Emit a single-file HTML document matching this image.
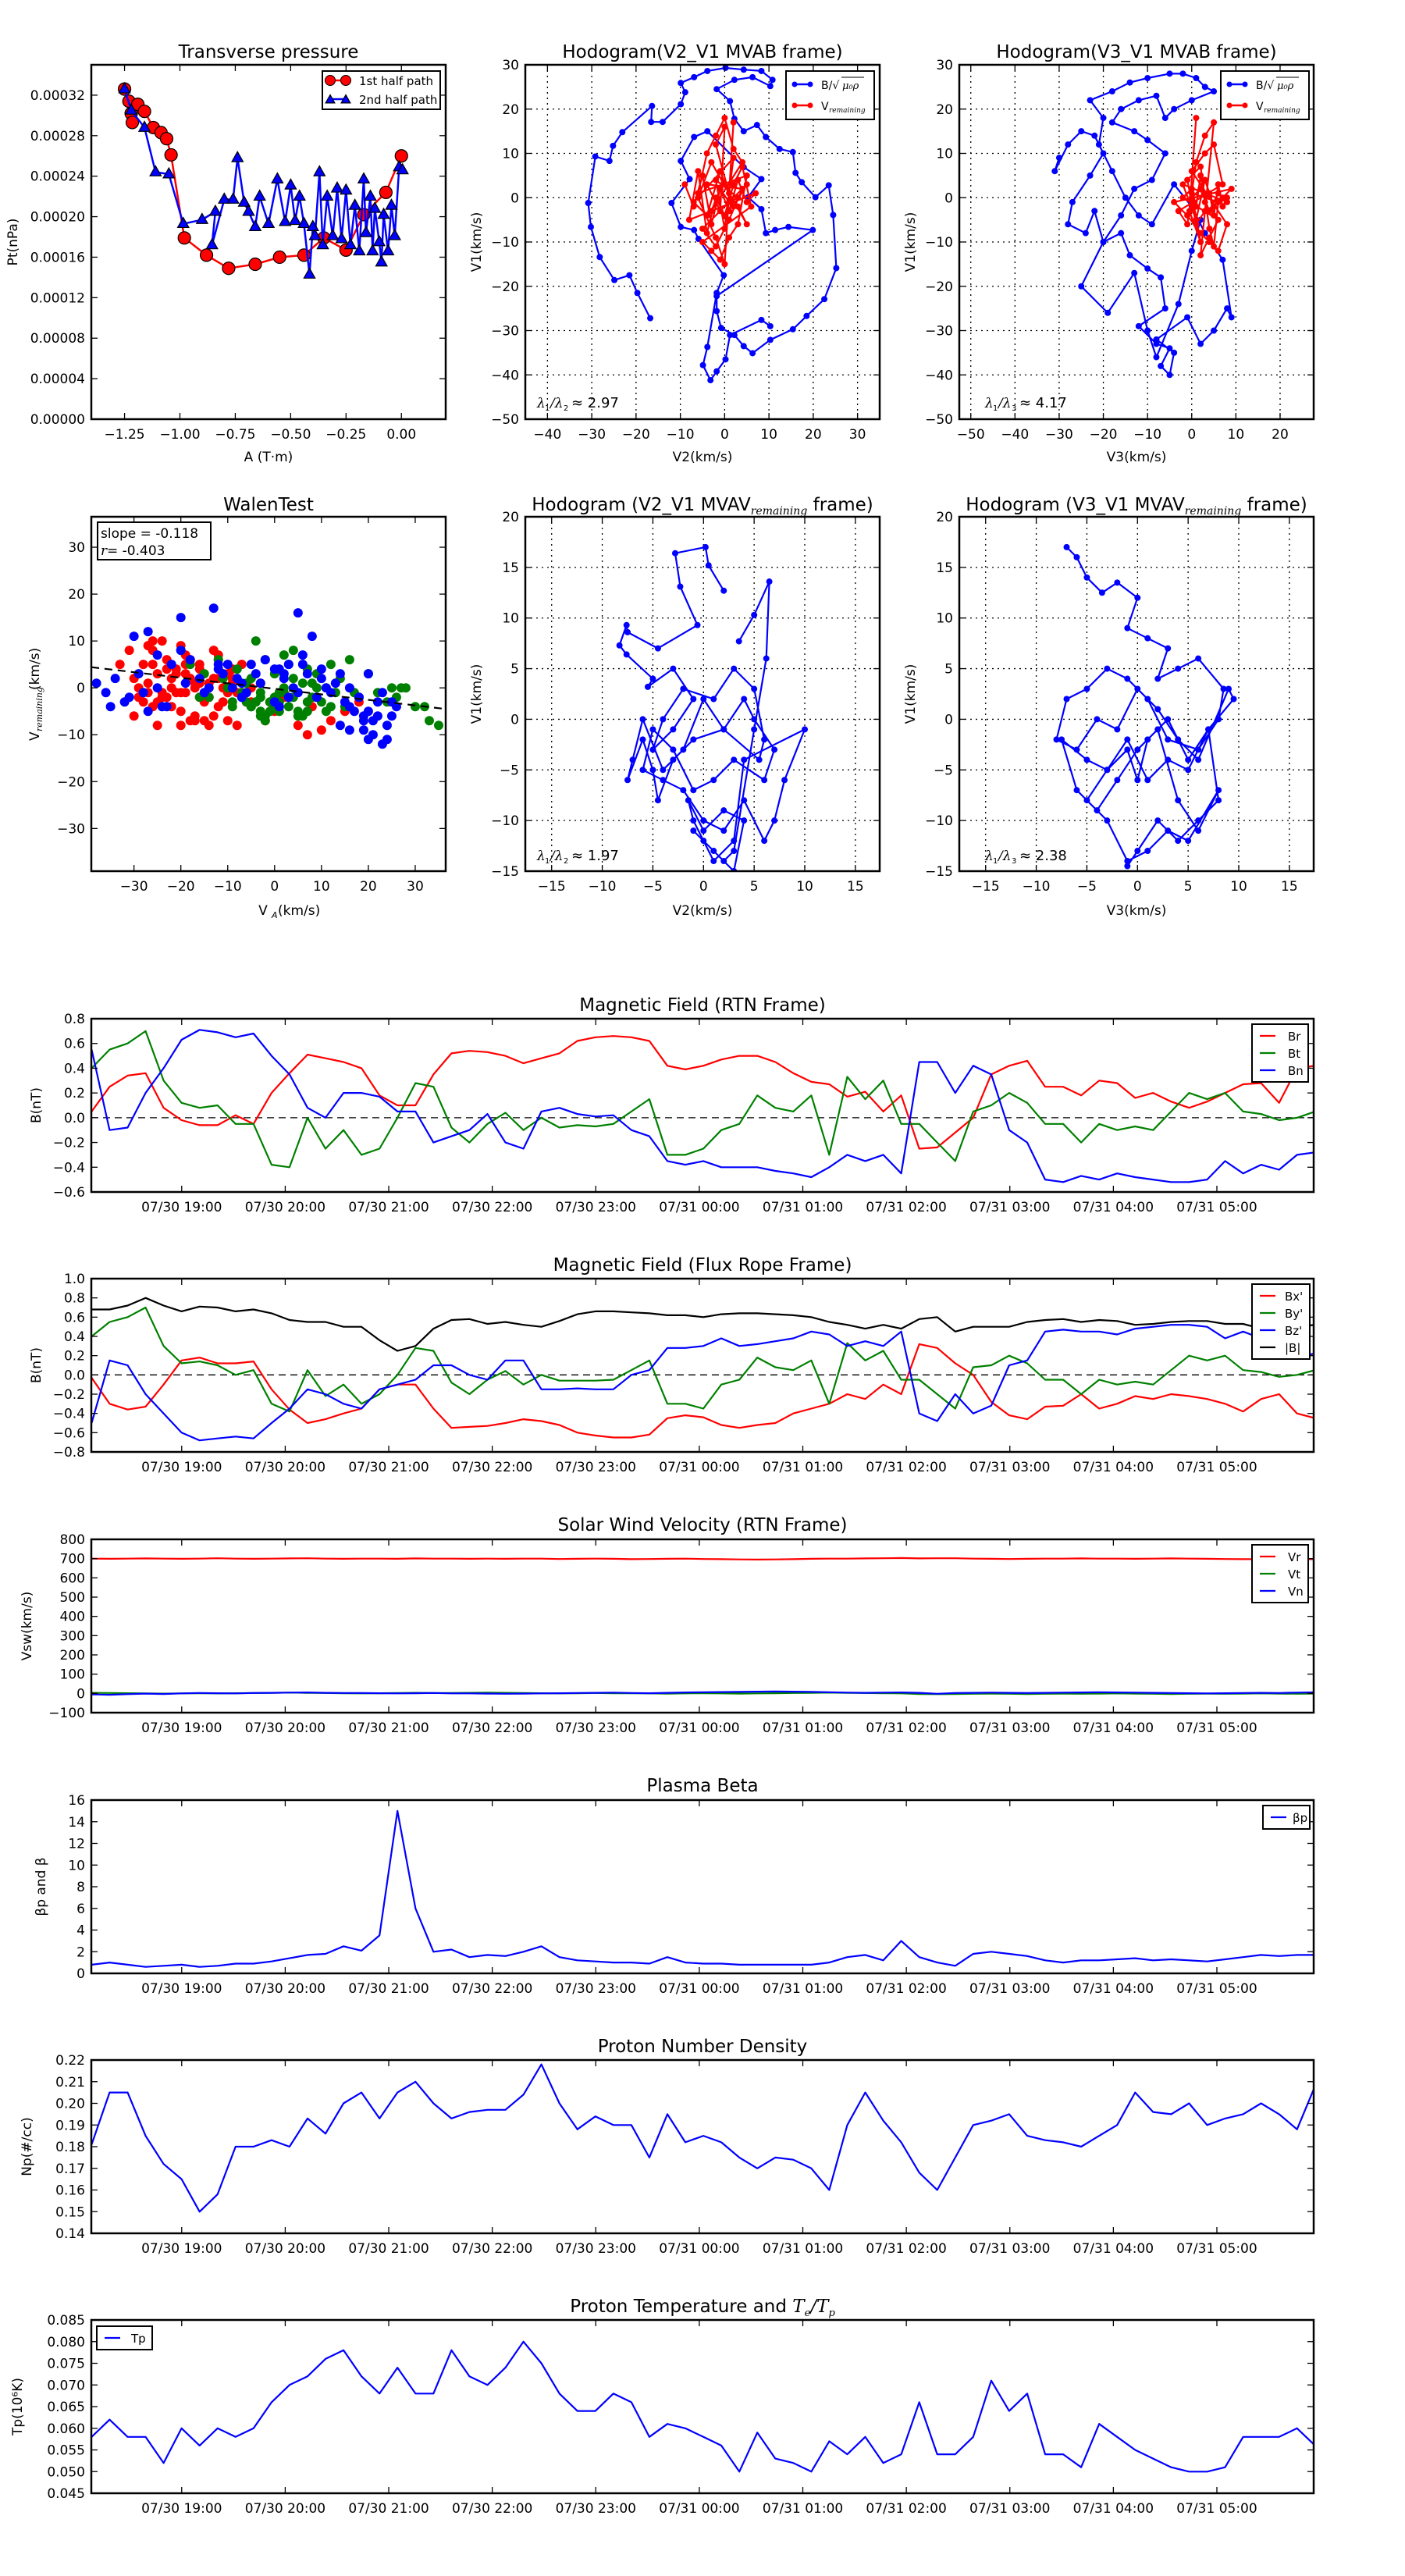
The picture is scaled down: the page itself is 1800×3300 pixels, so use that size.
<!DOCTYPE html>
<html><head><meta charset="utf-8"><title>Flux rope analysis</title>
<style>
html,body{margin:0;padding:0;background:#fff;}
svg{display:block;}
</style></head>
<body>
<svg id="fig" xmlns="http://www.w3.org/2000/svg" width="1800" height="3300" viewBox="0 0 1800 3300">
<rect x="0" y="0" width="1800" height="3300" fill="#fff"/>
</svg>
<script>
// ---------------- DATA ----------------
const timeTickHours = [19,20,21,22,23,24,25,26,27,28,29];
const timeTickLabels = ['07/30 19:00','07/30 20:00','07/30 21:00','07/30 22:00','07/30 23:00','07/31 00:00','07/31 01:00','07/31 02:00','07/31 03:00','07/31 04:00','07/31 05:00'];
const seriesStartHour = 18.13;
const seriesStepHour = 0.1738;

const br = [0.05,0.25,0.34,0.36,0.08,-0.02,-0.06,-0.06,0.02,-0.05,0.2,0.36,0.51,0.48,0.45,0.4,0.18,0.1,0.1,0.35,0.52,0.54,0.53,0.5,0.44,0.48,0.52,0.62,0.65,0.66,0.65,0.62,0.42,0.39,0.42,0.47,0.5,0.5,0.45,0.36,0.29,0.27,0.17,0.21,0.05,0.18,-0.25,-0.24,-0.12,0.0,0.35,0.42,0.46,0.25,0.25,0.18,0.3,0.28,0.16,0.2,0.13,0.08,0.13,0.2,0.27,0.28,0.12,0.4,0.42];
const bt = [0.4,0.55,0.6,0.7,0.3,0.12,0.08,0.1,-0.05,-0.05,-0.38,-0.4,0.0,-0.25,-0.1,-0.3,-0.25,0.0,0.28,0.25,-0.08,-0.2,-0.05,0.04,-0.1,0.0,-0.08,-0.06,-0.07,-0.05,0.05,0.15,-0.3,-0.3,-0.25,-0.1,-0.05,0.18,0.08,0.05,0.18,-0.3,0.33,0.15,0.3,-0.05,-0.05,-0.2,-0.35,0.05,0.1,0.2,0.12,-0.05,-0.05,-0.2,-0.05,-0.1,-0.07,-0.1,0.05,0.2,0.15,0.2,0.05,0.03,-0.02,0.0,0.05];
const bn = [0.55,-0.1,-0.08,0.2,0.4,0.63,0.71,0.69,0.65,0.68,0.5,0.35,0.08,0.0,0.2,0.2,0.17,0.05,0.05,-0.2,-0.15,-0.1,0.03,-0.2,-0.25,0.05,0.08,0.03,0.01,0.02,-0.1,-0.15,-0.35,-0.38,-0.35,-0.4,-0.4,-0.4,-0.43,-0.45,-0.48,-0.4,-0.3,-0.35,-0.3,-0.45,0.45,0.45,0.2,0.42,0.35,-0.1,-0.2,-0.5,-0.52,-0.47,-0.5,-0.45,-0.48,-0.5,-0.52,-0.52,-0.5,-0.35,-0.45,-0.38,-0.42,-0.3,-0.28];

const bxp = [-0.03,-0.3,-0.36,-0.33,-0.1,0.15,0.18,0.12,0.12,0.14,-0.15,-0.36,-0.5,-0.46,-0.4,-0.35,-0.15,-0.1,-0.1,-0.35,-0.55,-0.54,-0.53,-0.5,-0.46,-0.48,-0.52,-0.6,-0.63,-0.65,-0.65,-0.62,-0.45,-0.42,-0.44,-0.52,-0.55,-0.52,-0.5,-0.4,-0.35,-0.3,-0.2,-0.25,-0.1,-0.2,0.32,0.28,0.12,0.0,-0.28,-0.42,-0.46,-0.33,-0.32,-0.2,-0.35,-0.3,-0.22,-0.25,-0.2,-0.22,-0.25,-0.3,-0.38,-0.25,-0.2,-0.4,-0.45];
const byp = [0.4,0.55,0.6,0.7,0.3,0.12,0.14,0.1,0.0,0.05,-0.3,-0.38,0.05,-0.22,-0.1,-0.3,-0.2,0.0,0.28,0.25,-0.08,-0.2,-0.05,0.04,-0.1,0.0,-0.06,-0.06,-0.06,-0.05,0.05,0.15,-0.3,-0.3,-0.35,-0.1,-0.05,0.18,0.08,0.05,0.15,-0.3,0.33,0.15,0.25,-0.05,-0.05,-0.2,-0.35,0.08,0.1,0.2,0.12,-0.05,-0.05,-0.2,-0.05,-0.1,-0.07,-0.1,0.05,0.2,0.15,0.2,0.05,0.03,-0.02,0.0,0.05];
const bzp = [-0.5,0.15,0.1,-0.2,-0.4,-0.6,-0.68,-0.66,-0.64,-0.66,-0.5,-0.35,-0.15,-0.2,-0.3,-0.35,-0.15,-0.1,-0.05,0.1,0.1,0.0,-0.05,0.15,0.15,-0.15,-0.15,-0.14,-0.15,-0.15,0.0,0.05,0.28,0.28,0.3,0.38,0.3,0.32,0.35,0.38,0.45,0.42,0.3,0.35,0.3,0.45,-0.4,-0.48,-0.2,-0.4,-0.32,0.1,0.15,0.45,0.47,0.45,0.45,0.42,0.48,0.5,0.52,0.52,0.5,0.38,0.45,0.38,0.42,0.2,0.22];
const bmag = [0.68,0.68,0.72,0.8,0.72,0.66,0.71,0.7,0.66,0.68,0.64,0.57,0.55,0.55,0.5,0.5,0.36,0.25,0.3,0.48,0.57,0.58,0.53,0.55,0.52,0.5,0.56,0.63,0.66,0.66,0.65,0.64,0.62,0.62,0.6,0.63,0.64,0.64,0.63,0.62,0.6,0.55,0.52,0.48,0.52,0.48,0.58,0.6,0.45,0.5,0.5,0.5,0.55,0.57,0.58,0.55,0.57,0.56,0.52,0.53,0.55,0.56,0.56,0.53,0.53,0.48,0.46,0.5,0.52];

const vr = [700,699,700,701,700,699,700,702,700,699,700,701,702,700,699,700,700,699,701,700,700,699,700,699,700,700,698,699,700,699,697,698,699,700,698,697,696,695,696,697,699,700,700,701,702,703,701,702,702,700,699,698,699,700,700,701,700,700,699,700,701,700,699,698,697,697,697,696,697];
const vt = [3,2,1,0,-1,0,1,0,1,2,3,4,3,2,1,0,1,2,3,2,2,3,4,3,2,1,0,1,2,1,1,0,-1,0,1,0,-1,0,1,2,3,4,3,2,1,0,-3,-4,-3,-2,-1,-2,-3,-2,-1,-2,-1,0,-1,-2,-3,-2,-1,-2,-1,0,-1,-2,-1];
const vn = [-5,-7,-4,-1,-3,0,2,1,0,2,3,4,5,3,2,2,1,0,1,2,0,0,-1,-2,-1,0,1,2,3,4,2,1,3,5,6,7,8,9,10,9,8,6,4,3,4,5,3,-2,2,3,4,3,2,3,4,5,6,5,4,3,2,1,0,1,2,3,2,4,6];

const betaP = [0.8,1.0,0.8,0.6,0.7,0.8,0.6,0.7,0.9,0.9,1.1,1.4,1.7,1.8,2.5,2.1,3.5,15.0,6.0,2.0,2.2,1.5,1.7,1.6,2.0,2.5,1.5,1.2,1.1,1.0,1.0,0.9,1.5,1.0,0.9,0.9,0.8,0.8,0.8,0.8,0.8,1.0,1.5,1.7,1.2,3.0,1.5,1.0,0.7,1.8,2.0,1.8,1.6,1.2,1.0,1.2,1.2,1.3,1.4,1.2,1.3,1.2,1.1,1.3,1.5,1.7,1.6,1.7,1.7];
const np = [0.181,0.205,0.205,0.185,0.172,0.165,0.15,0.158,0.18,0.18,0.183,0.18,0.193,0.186,0.2,0.205,0.193,0.205,0.21,0.2,0.193,0.196,0.197,0.197,0.204,0.218,0.2,0.188,0.194,0.19,0.19,0.175,0.195,0.182,0.185,0.182,0.175,0.17,0.175,0.174,0.17,0.16,0.19,0.205,0.192,0.182,0.168,0.16,0.175,0.19,0.192,0.195,0.185,0.183,0.182,0.18,0.185,0.19,0.205,0.196,0.195,0.2,0.19,0.193,0.195,0.2,0.195,0.188,0.208];
const tp = [0.058,0.062,0.058,0.058,0.052,0.06,0.056,0.06,0.058,0.06,0.066,0.07,0.072,0.076,0.078,0.072,0.068,0.074,0.068,0.068,0.078,0.072,0.07,0.074,0.08,0.075,0.068,0.064,0.064,0.068,0.066,0.058,0.061,0.06,0.058,0.056,0.05,0.059,0.053,0.052,0.05,0.057,0.054,0.058,0.052,0.054,0.066,0.054,0.054,0.058,0.071,0.064,0.068,0.054,0.054,0.051,0.061,0.058,0.055,0.053,0.051,0.05,0.05,0.051,0.058,0.058,0.058,0.06,0.056];

// Transverse pressure
const pt1A = [-1.25,-1.23,-1.22,-1.215,-1.19,-1.16,-1.12,-1.085,-1.06,-1.04,-0.98,-0.88,-0.78,-0.66,-0.55,-0.44,-0.35,-0.25,-0.17,-0.07,0.0];
const pt1P = [0.000326,0.000314,0.000302,0.000293,0.000311,0.000304,0.000288,0.000283,0.000277,0.000261,0.000179,0.000162,0.000149,0.000153,0.000160,0.000162,0.000179,0.000167,0.000202,0.000224,0.000260];
const pt2A = [-1.25,-1.22,-1.16,-1.11,-1.05,-0.985,-0.90,-0.84,-0.855,-0.80,-0.76,-0.74,-0.71,-0.69,-0.66,-0.64,-0.60,-0.56,-0.525,-0.50,-0.48,-0.46,-0.44,-0.415,-0.40,-0.39,-0.37,-0.355,-0.335,-0.31,-0.29,-0.27,-0.25,-0.23,-0.21,-0.19,-0.17,-0.16,-0.14,-0.13,-0.12,-0.10,-0.09,-0.08,-0.06,-0.045,-0.03,-0.01,0.005];
const pt2P = [0.000326,0.000305,0.000288,0.000244,0.000242,0.000193,0.000197,0.000205,0.000172,0.000217,0.000217,0.000258,0.000214,0.000205,0.000190,0.000220,0.000193,0.000237,0.000195,0.000231,0.000196,0.000220,0.000193,0.000143,0.000190,0.000181,0.000244,0.000172,0.000220,0.000181,0.000228,0.000178,0.000226,0.000172,0.000211,0.000166,0.000237,0.000184,0.000220,0.000166,0.000208,0.000175,0.000155,0.000202,0.000166,0.000211,0.000181,0.000249,0.000246];

// Hodogram MVAB V2-V1
const hb2V2 = [-16.8,-19.7,-21.5,-24.9,-28.2,-30.2,-30.8,-29.2,-26,-25.2,-23.1,-16.4,-16.6,-14,-9.9,-8.9,-9.9,-6.9,-3.9,0.2,4.3,8.3,10.8,10.3,6.3,2.2,-1.8,1.2,2.2,4.3,7.3,9.3,12.4,15.4,16,17.4,20.5,23.5,24.5,25.2,22.5,18.5,15.4,10.3,6.3,4.3,2.2,-0.8,-1.8,-1.8,19.9,14.4,11.4,9.3,8.3,5.3,8.3,4.3,-3.9,-6.9,-9.9,-7.9,-12,-9.9,-6.9,-5.9,-0.2,-1.8,-3.9,-4.9,-3.2,-1.8,0.2,1.2,8.3,10.3];
const hb2V1 = [-27.2,-21.5,-17.5,-18.6,-13.4,-6.6,-1.2,9.3,8.3,11.7,14.8,20.7,17.1,17.1,21.1,23.8,25.9,27.2,28.6,29.3,28.9,28.6,26.6,25.2,27.2,26.6,24.5,21.8,17.8,15.0,16.4,13.7,11.0,10.3,5.6,3.5,0.1,2.8,-3.9,-15.9,-22.9,-26.7,-29.7,-32.1,-35.1,-33.5,-31,-29.4,-25.6,-22.2,-7.3,-6.6,-7.3,-8,-2.6,0.1,4.2,6.9,15,13.7,8.3,4.2,-1.2,-6.6,-7.3,-9.3,-17.5,-21.5,-33.7,-37.8,-41.2,-39.2,-36.5,-31,-27.6,-29];
const hr2V2 = [-9,-7,-5,-3,-1,1,3,5,7,-8,-6,-4,-2,0,2,4,6,-5,-3,-1,1,3,5,-6,-4,-2,0,2,4,-3,-1,1,3,-2,0,2,-7,-4,-1,2,5,-5,-2,1,4,-4,-1,0,-2,1,3,5,-3,-6,-2,0,2];
const hr2V1 = [3,-2,5,-6,2,-3,4,-1,1,-5,6,-8,0,-4,3,7,-2,-10,-12,-14,-9,-6,5,1,10,14,18,11,8,-3,2,-1,0,4,-7,9,-1,-4,6,-2,3,-7,-11,-5,2,3,-3,16,12,1,-2,-6,8,0,-9,-15,17];

// Hodogram MVAB V3-V1
const hb3V3 = [-30,-31,-28,-25,-22,-20,-23,-27,-28,-24,-22,-20,-16,-14,-10,-7,-6,-12,-8,-5,-7,-5,-4,-8,-1,2,5,8,9,7,3,0,-4,-9,-12,-15,-18,-21,-20,-23,-18,-14,-10,-5,-2,1,3,5,0,-4,-6,-8,-12,-16,-18,-13,-10,-6,-9,-13,-16,-20,-25,-19,-13,-10,-8,-3,0,2];
const hb3V1 = [9,6,12,15,14,10,5,-1,-6,-8,-3,-10,-8,-13,-16,-18,-25,-29,-33,-34,-38,-40,-35,-32,-27,-33,-30,-25,-27,-14,-8,-2,3,-6,-4,0,6,12,18,22,24,26,27,28,28,27,25,24,22,20,18,23,22,20,17,15,13,10,4,2,-4,-10,-20,-26,-17,-30,-36,-24,-12,-5];
const hr3V3 = [0,2,4,6,8,-2,1,3,5,7,9,-4,-1,2,4,6,8,0,3,5,7,-3,-1,1,3,5,2,4,6,-2,0,1,2,3,4,5,6,7,8,3,1,-1,2,4,5,6,0,2,-0.5,1];
const hr3V1 = [0,2,-3,1,-1,3,-5,4,-2,0,2,-1,-4,-8,-10,-12,-6,6,10,12,3,-3,-6,8,14,17,-13,-9,-5,0,2,-2,5,-1,1,-4,3,-2,0,-3,-6,4,7,-7,-11,-1,1,-10,-3,18];

// Walen test
const walenRedX = [-30,-28,-27,-26,-25,-24,-23,-22,-21,-20,-19,-18,-17,-16,-15,-14,-13,-12,-11,-10,-9,-8,-7,-6,-5,-30,-28,-26,-24,-22,-20,-18,-16,-14,-12,-10,-8,-25,-21,-17,-13,-9,-27,-23,-19,-15,-11,-5,-2,0,2,5,8,12,15,18,-29,-20,-16,-10,-33,-31,-26,-24,-19,-17,-14,-12,-6,-3,7,10,-29,-27,-25,-23,-21,-19,-17,-15,-13,-11,-9,-7,-26,-22,-18,-14,-24,-20,-16,-12];
const walenRedY = [2,5,-1,8,3,-2,6,0,4,-5,7,2,-6,5,-3,1,8,-4,3,-7,2,-1,5,-3,0,-6,-3,10,-1,2,-8,-7,4,-2,6,-1,-8,-8,3,1,-6,4,9,-2,5,-7,0,-3,-7,-5,-2,-8,-4,-7,-5,-3,0,9,-2,3,5,8,-4,10,-1,-7,-8,7,-3,1,-10,-9,-2,1,-3,4,-1,3,0,-2,2,-3,1,-1,5,-4,6,0,-2,-1,1,2];
const walenGreenX = [-18,-15,-12,-10,-8,-6,-5,-4,-3,-2,-1,0,1,2,3,4,5,6,7,8,9,10,11,12,13,14,15,16,18,20,22,24,26,28,30,33,35,-14,-9,-6,-2,1,3,6,9,12,-11,-7,-3,0,4,8,11,17,-16,-4,2,7,-5,-3,-1,1,3,-20,25,27,32,-9,-7,-5,-3,-1,1,3,5,7,-2,0,2,4,-4];
const walenGreenY = [5,3,6,0,4,-3,2,10,-2,6,-5,3,-1,7,-4,2,-6,1,4,-2,3,-3,0,5,-1,2,-4,6,-2,3,-1,-3,-2,0,-4,-7,-8,-2,-4,1,-7,-3,5,-6,0,-4,2,-1,-5,-2,8,1,-5,-1,-2,-3,0,-5,-4,-6,-3,-5,-2,8,0,0,-4,-3,-2,-4,-1,-3,-4,-2,-5,-3,-6,-4,-1,-2,-3];
const walenBlueX = [-38,-36,-34,-32,-30,-29,-28,-27,-25,-24,-22,-20,-19,-18,-16,-14,-13,-12,-10,-8,-6,-4,-2,0,2,4,5,6,7,8,9,10,12,14,16,18,20,21,22,23,24,25,26,-25,-15,-11,-7,-3,1,3,11,13,17,19,-5,-20,-12,0,10,20,-35,-31,-27,-23,14,16,19,24,-9,-7,1,2,3,5,6,15,16,18,20,22,23,25,21,19];
const walenBlueY = [1,-1,2,-3,11,3,-1,12,7,-4,5,15,1,6,2,0,17,4,5,2,-1,3,6,4,2,0,16,7,3,11,-2,2,-1,3,0,-2,-11,-10,-3,-12,-8,-6,-4,0,-1,3,-2,1,-4,5,0,1,-5,-7,5,8,5,-3,4,3,-4,-2,-5,-4,-8,-9,-6,-11,0,1,4,3,-2,-1,5,-3,-4,-2,-5,-6,-1,-3,-7,-9];
const walenSlope = -0.118;
const walenIntercept = -0.2;

// Hodogram MVAV (row 2)
const hv2V2 = [2,0.5,0.2,-2.8,-2.3,-0.6,-4.5,-7.5,-7.6,-8.3,-7.6,-5,-5.5,-3,-1,-3,-5,-4,-2,1,3,5,6,5.5,2,0,-2,-4,-6,-7,-7.5,-6,-5,-4.5,-3,-1,2,4,5,7,6,3,1,-1,-3,-5,-6,-4,-2,0,2,4,6,7,8,10,4,3,1,-1,-1.5,0,2,4,3,1,-1,0,2,3,5,6.2,6.5,5,3.5];
const hv2V1 = [12.7,15.2,17,16.4,13.1,9.3,7,8.6,9.3,7.3,6.4,4,3.2,5,2,-1,-3,0,3,2,5,3,-2,-4,-1,2,-3,-5,0,-4,-6,-2,-5,-8,-4,-2,-1,2,0,-3,-6,-4,-6,-7,-3,-1,-5,-6,-7,-10,-11,-8,-12,-10,-6,-1,-4,-12,-14,-10,-8,-11,-9,-10,-15,-13,-11,-12,-14,-13,-1,6,13.6,10.3,7.7];
const hv3V3 = [-7,-6,-5,-3.5,-2,0,-1,1,3,2,4,6,8.5,8,6,3,1,-1,-3,-5,-7,-8,-6,-4,-2,0,2,4,6,9,9.5,7,5,3,1,-1,-3,-5,-7.5,-6,-4,-2,0,2,4,6,8,5,3,1,-1,-3,-5,-3,-1,0,1,3,5,7,8,6,4,2,0,-1];
const hv3V1 = [17,16,14,12.5,13.5,12,9,8,7,4,5,6,3,0,-3,-2,2,4,5,3,2,-2,-3,0,-1,3,1,-2,-4,3,2,-1,-5,-4,-6,-2,-5,-4,-2,-7,-9,-6,-3,-1,-8,-11,-7,-12,-11,-13,-14,-10,-8,-5,-3,-6,-2,0,-4,-1,-8,-10,-12,-10,-13,-14.5];

// ---------------- DRAWING ----------------
const NS = 'http://www.w3.org/2000/svg';
const svg = document.getElementById('fig');
const FONT = '"DejaVu Sans", "Liberation Sans", sans-serif';
let clipId = 0;
function mk(tag, attrs, parent) {
  const e = document.createElementNS(NS, tag);
  for (const k in attrs) e.setAttribute(k, attrs[k]);
  (parent || svg).appendChild(e);
  return e;
}
function txt(str, x, y, attrs, parent) {
  const a = Object.assign({x: x, y: y, 'font-family': FONT, 'font-size': 17, fill: '#000'}, attrs || {});
  const e = mk('text', a, parent);
  e.textContent = str;
  return e;
}
function lin(v0, v1, p0, p1) { return v => p0 + (v - v0) / (v1 - v0) * (p1 - p0); }

function makeAxes(c) {
  const g = mk('g', {});
  
  
  const sx = lin(c.xmin, c.xmax, c.x, c.x + c.w);
  const sy = lin(c.ymin, c.ymax, c.y + c.h, c.y);
  const cid = 'clip' + (clipId++);
  const cp = mk('clipPath', {id: cid}, g);
  mk('rect', {x: c.x, y: c.y, width: c.w, height: c.h}, cp);
  if (c.grid) {
    const gg = mk('g', {stroke: '#000', 'stroke-width': 1.3, 'stroke-dasharray': '2,5'}, g);
    
    
    c.xticks.forEach(v => mk('line', {x1: sx(v), x2: sx(v), y1: c.y, y2: c.y + c.h}, gg));
    c.yticks.forEach(v => mk('line', {x1: c.x, x2: c.x + c.w, y1: sy(v), y2: sy(v)}, gg));
  }
  const plot = mk('g', {'clip-path': 'url(#' + cid + ')'}, g);
  
  
  function finish() {
    const fr = mk('g', {}, g);
    
    
    mk('rect', {x: c.x, y: c.y, width: c.w, height: c.h, fill: 'none', stroke: '#000', 'stroke-width': 2.5}, fr);
    const tk = mk('g', {stroke: '#000', 'stroke-width': 1.3}, fr);
    const L = 8;
    c.xticks.forEach((v, i) => {
      const X = sx(v);
      mk('line', {x1: X, x2: X, y1: c.y + c.h, y2: c.y + c.h - L}, tk);
      mk('line', {x1: X, x2: X, y1: c.y, y2: c.y + L}, tk);
      const t = txt(c.xlabels[i], X, c.y + c.h + 25, {'text-anchor': 'middle'}, fr);
      
      
    });
    c.yticks.forEach((v, i) => {
      const Y = sy(v);
      mk('line', {x1: c.x, x2: c.x + L, y1: Y, y2: Y}, tk);
      mk('line', {x1: c.x + c.w, x2: c.x + c.w - L, y1: Y, y2: Y}, tk);
      const t = txt(c.ylabels[i], c.x - 8, Y + 6, {'text-anchor': 'end'}, fr);
      
      
    });
  }
  return {g, plot, sx, sy, finish, c};
}
function polyline(ax, xs, ys, color, width, parent, name) {
  const n = Math.min(xs.length, ys.length);
  const pts = [];
  for (let i = 0; i < n; i++) pts.push(ax.sx(xs[i]).toFixed(1) + ',' + ax.sy(ys[i]).toFixed(1));
  const p = mk('polyline', {points: pts.join(' '), fill: 'none', stroke: color, 'stroke-width': width, 'stroke-linejoin': 'round'}, parent || ax.plot);
  
  
  return p;
}
function dots(ax, xs, ys, color, r, name, stroke) {
  const n = Math.min(xs.length, ys.length);
  const g = mk('g', {fill: color}, ax.plot);
  
  
  for (let i = 0; i < n; i++) {
    const d = mk('circle', {cx: ax.sx(xs[i]), cy: ax.sy(ys[i]), r: r}, g);
    if (stroke) { d.setAttribute('stroke', stroke); d.setAttribute('stroke-width', 1.2); }
    
    
  }
}
function tri(px, py, s, parent) {
  return mk('polygon', {points: [px, py - s, px - s * 0.9, py + s * 0.6, px + s * 0.9, py + s * 0.6].join(','), fill: 'blue', stroke: '#000', 'stroke-width': 1.2}, parent);
}
function title(str, cx, y, name) {
  const t = txt(str, cx, y, {'text-anchor': 'middle', 'font-size': 23});
  
  
  return t;
}
function ylab(str, x, cy, name) {
  const t = txt(str, x, cy, {'text-anchor': 'middle', transform: 'rotate(-90 ' + x + ' ' + cy + ')', 'font-size': 17});
  
  
  return t;
}
function xlab(str, cx, y, name) {
  const t = txt(str, cx, y, {'text-anchor': 'middle', 'font-size': 17});
  
  
  return t;
}
function rng(a, b, s) { const r = []; for (let v = a; v <= b + 1e-9; v += s) r.push(Math.round(v * 1e6) / 1e6); return r; }
const minus = v => String(v).replace('-', '\u2212');

// ===== Row 1 =====
(function () {
  const xt = [-1.25, -1.0, -0.75, -0.5, -0.25, 0.0];
  const yt = rng(0, 0.00032, 0.00004);
  const ax = makeAxes({name: 'transverse-pressure-chart', x: 117, y: 83, w: 454, h: 454, xmin: -1.4, xmax: 0.2, ymin: 0, ymax: 0.00035,
    xticks: xt, xlabels: xt.map(v => minus(v.toFixed(2))), yticks: yt, ylabels: yt.map(v => v.toFixed(5))});
  polyline(ax, pt1A, pt1P, 'red', 2.5, null, 'first-half-line');
  const cg = mk('g', {}, ax.plot);
  
  
  for (let i = 0; i < Math.min(pt1A.length, pt1P.length); i++) {
    const c = mk('circle', {cx: ax.sx(pt1A[i]), cy: ax.sy(pt1P[i]), r: 8, fill: 'red', stroke: '#000', 'stroke-width': 1.2}, cg);
    
    
  }
  polyline(ax, pt2A, pt2P, 'blue', 2.5, null, 'second-half-line');
  const tg = mk('g', {}, ax.plot);
  
  
  for (let i = 0; i < Math.min(pt2A.length, pt2P.length); i++) {
    const t = tri(ax.sx(pt2A[i]), ax.sy(pt2P[i]), 8, tg);
    
    
  }
  ax.finish();
  const lg = mk('g', {});
  
  
  mk('rect', {x: 413, y: 91, width: 151, height: 49, fill: '#fff', stroke: '#000', 'stroke-width': 2}, lg);
  mk('line', {x1: 423, x2: 443, y1: 103, y2: 103, stroke: 'red', 'stroke-width': 2.5}, lg);
  mk('circle', {cx: 423, cy: 103, r: 6.5, fill: 'red', stroke: '#000'}, lg);
  mk('circle', {cx: 443, cy: 103, r: 6.5, fill: 'red', stroke: '#000'}, lg);
  const l1 = txt('1st half path', 460, 109, {'font-size': 15}, lg);
  
  
  mk('line', {x1: 423, x2: 443, y1: 127, y2: 127, stroke: 'blue', 'stroke-width': 2.5}, lg);
  tri(423, 128, 6.5, lg); tri(443, 128, 6.5, lg);
  const l2 = txt('2nd half path', 460, 133, {'font-size': 15}, lg);
  
  
  title('Transverse pressure', 344, 74, 'chart-title');
  xlab('A (T\u00b7m)', 344, 591, 'x-axis-title');
  ylab('Pt(nPa)', 22, 310, 'y-axis-title');
})();

function hodoLegend(x, y, w) {
  const lg = mk('g', {});
  
  
  mk('rect', {x: x, y: y, width: w, height: 62, fill: '#fff', stroke: '#000', 'stroke-width': 2}, lg);
  mk('line', {x1: x + 11, x2: x + 31, y1: y + 17, y2: y + 17, stroke: 'blue', 'stroke-width': 2.5}, lg);
  mk('circle', {cx: x + 11, cy: y + 17, r: 3.5, fill: 'blue'}, lg);
  mk('circle', {cx: x + 31, cy: y + 17, r: 3.5, fill: 'blue'}, lg);
  const t1 = txt('B/\u221A', x + 45, y + 23, {'font-size': 14}, lg);
  
  
  const t1b = txt('\u03BC\u2080\u03C1', x + 72, y + 23, {'font-size': 13, 'font-style': 'italic', 'font-family': '"DejaVu Serif", serif'}, lg);
  
  
  mk('line', {x1: x + 71, x2: x + 100, y1: y + 8, y2: y + 8, stroke: '#000', 'stroke-width': 1}, lg);
  mk('line', {x1: x + 11, x2: x + 31, y1: y + 44, y2: y + 44, stroke: 'red', 'stroke-width': 2.5}, lg);
  mk('circle', {cx: x + 11, cy: y + 44, r: 3.5, fill: 'red'}, lg);
  mk('circle', {cx: x + 31, cy: y + 44, r: 3.5, fill: 'red'}, lg);
  const t2 = txt('V', x + 45, y + 50, {'font-size': 14}, lg);
  
  
  const t2b = txt('remaining', x + 55, y + 53, {'font-size': 9, 'font-style': 'italic', 'font-family': '"DejaVu Serif", serif'}, lg);
  
  
}
function ratioNote(x, y, sub, val) {
  const g = mk('g', {});
  
  
  txt('\u03BB', x, y, {'font-size': 17, 'font-style': 'italic', 'font-family': '"DejaVu Serif", serif'}, g);
  txt('1', x + 10, y + 4, {'font-size': 10}, g);
  txt('/\u03BB', x + 17, y, {'font-size': 17, 'font-style': 'italic', 'font-family': '"DejaVu Serif", serif'}, g);
  txt(sub, x + 34, y + 4, {'font-size': 10}, g);
  txt('\u2248 ' + val, x + 44, y, {'font-size': 18}, g);
}

(function () {
  const xt = rng(-40, 30, 10), yt = rng(-50, 30, 10);
  const ax = makeAxes({name: 'hodogram-v2-v1-mvab', x: 673, y: 83, w: 454, h: 454, xmin: -45, xmax: 35, ymin: -50, ymax: 30, grid: true,
    xticks: xt, xlabels: xt.map(minus), yticks: yt, ylabels: yt.map(minus)});
  polyline(ax, hb2V2, hb2V1, 'blue', 2.2, null, 'b-hodogram-line');
  dots(ax, hb2V2, hb2V1, 'blue', 4, 'b-hodogram');
  polyline(ax, hr2V2, hr2V1, 'red', 2.2, null, 'v-remaining-line');
  dots(ax, hr2V2, hr2V1, 'red', 4, 'v-remaining');
  ax.finish();
  hodoLegend(1007, 91, 113);
  ratioNote(688, 522, '2', '2.97');
  title('Hodogram(V2_V1 MVAB frame)', 900, 74, 'chart-title');
  xlab('V2(km/s)', 900, 591, 'x-axis-title');
  ylab('V1(km/s)', 616, 310, 'y-axis-title');
})();

(function () {
  const xt = rng(-50, 20, 10), yt = rng(-50, 30, 10);
  const ax = makeAxes({name: 'hodogram-v3-v1-mvab', x: 1229, y: 83, w: 454, h: 454, xmin: -52.6, xmax: 27.6, ymin: -50, ymax: 30, grid: true,
    xticks: xt, xlabels: xt.map(minus), yticks: yt, ylabels: yt.map(minus)});
  polyline(ax, hb3V3, hb3V1, 'blue', 2.2, null, 'b-hodogram-line');
  dots(ax, hb3V3, hb3V1, 'blue', 4, 'b-hodogram');
  polyline(ax, hr3V3, hr3V1, 'red', 2.2, null, 'v-remaining-line');
  dots(ax, hr3V3, hr3V1, 'red', 4, 'v-remaining');
  ax.finish();
  hodoLegend(1564, 91, 113);
  ratioNote(1262, 522, '3', '4.17');
  title('Hodogram(V3_V1 MVAB frame)', 1456, 74, 'chart-title');
  xlab('V3(km/s)', 1456, 591, 'x-axis-title');
  ylab('V1(km/s)', 1172, 310, 'y-axis-title');
})();

// ===== Row 2 =====
(function () {
  const xt = rng(-30, 30, 10), yt = rng(-30, 30, 10);
  const ax = makeAxes({name: 'walen-test-chart', x: 117, y: 662, w: 454, h: 454, xmin: -39.1, xmax: 36.5, ymin: -39.1, ymax: 36.5,
    xticks: xt, xlabels: xt.map(minus), yticks: yt, ylabels: yt.map(minus)});
  dots(ax, walenRedX, walenRedY, 'red', 6, 'walen-red');
  dots(ax, walenGreenX, walenGreenY, 'green', 6, 'walen-green');
  dots(ax, walenBlueX, walenBlueY, 'blue', 6, 'walen-blue');
  const fit = mk('line', {x1: ax.sx(-39.1), y1: ax.sy(walenIntercept + walenSlope * -39.1), x2: ax.sx(36.5), y2: ax.sy(walenIntercept + walenSlope * 36.5), stroke: '#000', 'stroke-width': 2.2, 'stroke-dasharray': '10,7'}, ax.plot);
  
  
  ax.finish();
  const bx = mk('g', {});
  
  
  mk('rect', {x: 125, y: 669, width: 145, height: 48, fill: '#fff', stroke: '#000', 'stroke-width': 2}, bx);
  txt('slope = -0.118', 129, 689, {'font-size': 17}, bx);
  txt('r', 129, 711, {'font-size': 17, 'font-style': 'italic', 'font-family': '"DejaVu Serif", serif'}, bx);
  txt(' = -0.403', 137, 711, {'font-size': 17}, bx);
  title('WalenTest', 344, 654, 'chart-title');
  xlab('V', 337, 1172, 'x-axis-title');
  txt('A', 348, 1176, {'font-size': 11, 'font-style': 'italic'});
  txt('(km/s)', 356, 1172, {'font-size': 17});
  const yl = mk('g', {transform: 'translate(50 889) rotate(-90)'});
  
  
  txt('V', -60, 0, {'font-size': 17}, yl);
  txt('remaining', -48, 4, {'font-size': 11, 'font-style': 'italic', 'font-family': '"DejaVu Serif", serif'}, yl);
  txt('(km/s)', 5, 0, {'font-size': 17}, yl);
})();

function mvavTitle(cx, y, which) {
  const g = mk('g', {});
  
  
  const t = txt('', cx, y, {'text-anchor': 'middle', 'font-size': 23}, g);
  const a = mk('tspan', {}, t); a.textContent = 'Hodogram (' + which + '_V1 MVAV';
  const b = mk('tspan', {'font-size': 14, dy: 5, 'font-style': 'italic', 'font-family': '"DejaVu Serif", serif'}, t); b.textContent = 'remaining';
  const c = mk('tspan', {dy: -5}, t); c.textContent = ' frame)';
}
(function () {
  const xt = rng(-15, 15, 5), yt = rng(-15, 20, 5);
  const ax = makeAxes({name: 'hodogram-v2-v1-mvav', x: 673, y: 662, w: 454, h: 454, xmin: -17.6, xmax: 17.4, ymin: -15, ymax: 20, grid: true,
    xticks: xt, xlabels: xt.map(minus), yticks: yt, ylabels: yt.map(minus)});
  polyline(ax, hv2V2, hv2V1, 'blue', 2.2, null, 'v-hodogram-line');
  dots(ax, hv2V2, hv2V1, 'blue', 4, 'v-hodogram');
  ax.finish();
  ratioNote(688, 1102, '2', '1.97');
  mvavTitle(900, 654, 'V2');
  xlab('V2(km/s)', 900, 1172, 'x-axis-title');
  ylab('V1(km/s)', 616, 889, 'y-axis-title');
})();
(function () {
  const xt = rng(-15, 15, 5), yt = rng(-15, 20, 5);
  const ax = makeAxes({name: 'hodogram-v3-v1-mvav', x: 1229, y: 662, w: 454, h: 454, xmin: -17.6, xmax: 17.4, ymin: -15, ymax: 20, grid: true,
    xticks: xt, xlabels: xt.map(minus), yticks: yt, ylabels: yt.map(minus)});
  polyline(ax, hv3V3, hv3V1, 'blue', 2.2, null, 'v-hodogram-line');
  dots(ax, hv3V3, hv3V1, 'blue', 4, 'v-hodogram');
  ax.finish();
  ratioNote(1262, 1102, '3', '2.38');
  mvavTitle(1456, 654, 'V3');
  xlab('V3(km/s)', 1456, 1172, 'x-axis-title');
  ylab('V1(km/s)', 1172, 889, 'y-axis-title');
})();

// ===== Time series =====
function tsLegend(x, y, w, items, name, textOff) {
  const lg = mk('g', {});
  
  
  const h = items.length * 22 + 8;
  const off = textOff || 48;
  mk('rect', {x: x, y: y, width: w, height: h, fill: '#fff', stroke: '#000', 'stroke-width': 2}, lg);
  items.forEach((it, i) => {
    const cy = y + 15 + i * 22;
    mk('line', {x1: x + 10, x2: x + 30, y1: cy, y2: cy, stroke: it[1], 'stroke-width': 2.2}, lg);
    const t = txt(it[0], x + off, cy + 6, {'font-size': 15}, lg);
    
    
  });
}
function timeAxes(name, y, ymin, ymax, yt, fmt) {
  return makeAxes({name: name, x: 117, y: y, w: 1566, h: 222, xmin: 18.127, xmax: 29.935, ymin: ymin, ymax: ymax,
    xticks: timeTickHours, xlabels: timeTickLabels, yticks: yt, ylabels: yt.map(fmt)});
}
function tsTimes(n) { const r = []; for (let i = 0; i < n; i++) r.push(seriesStartHour + i * seriesStepHour); return r; }
function zeroLine(ax) {
  const z = mk('line', {x1: ax.c.x, x2: ax.c.x + ax.c.w, y1: ax.sy(0), y2: ax.sy(0), stroke: '#000', 'stroke-width': 1.3, 'stroke-dasharray': '9,6'}, ax.plot);
  
  
}
const f1 = v => minus(v.toFixed(1));

(function () {
  const ax = timeAxes('magnetic-field-rtn-chart', 1305, -0.6, 0.8, rng(-0.6, 0.8, 0.2), f1);
  zeroLine(ax);
  polyline(ax, tsTimes(br.length), br, 'red', 2.2, null, 'br-line');
  polyline(ax, tsTimes(bt.length), bt, 'green', 2.2, null, 'bt-line');
  polyline(ax, tsTimes(bn.length), bn, 'blue', 2.2, null, 'bn-line');
  ax.finish();
  tsLegend(1604, 1312, 72, [['Br', 'red'], ['Bt', 'green'], ['Bn', 'blue']], 'legend', 46);
  title('Magnetic Field (RTN Frame)', 900, 1295, 'chart-title');
  ylab('B(nT)', 52, 1416, 'y-axis-title');
})();
(function () {
  const ax = timeAxes('magnetic-field-flux-rope-chart', 1638, -0.8, 1.0, rng(-0.8, 1.0, 0.2), f1);
  zeroLine(ax);
  polyline(ax, tsTimes(bmag.length), bmag, '#000', 2.2, null, 'bmag-line');
  polyline(ax, tsTimes(bxp.length), bxp, 'red', 2.2, null, 'bx-prime-line');
  polyline(ax, tsTimes(byp.length), byp, 'green', 2.2, null, 'by-prime-line');
  polyline(ax, tsTimes(bzp.length), bzp, 'blue', 2.2, null, 'bz-prime-line');
  ax.finish();
  tsLegend(1604, 1645, 74, [['Bx\'', 'red'], ['By\'', 'green'], ['Bz\'', 'blue'], ['|B|', '#000']], 'legend', 42);
  title('Magnetic Field (Flux Rope Frame)', 900, 1628, 'chart-title');
  ylab('B(nT)', 52, 1749, 'y-axis-title');
})();
(function () {
  const ax = timeAxes('solar-wind-velocity-chart', 1972, -100, 800, rng(-100, 800, 100), v => minus(v));
  polyline(ax, tsTimes(vr.length), vr, 'red', 2.2, null, 'vr-line');
  polyline(ax, tsTimes(vt.length), vt, 'green', 2.2, null, 'vt-line');
  polyline(ax, tsTimes(vn.length), vn, 'blue', 2.2, null, 'vn-line');
  ax.finish();
  tsLegend(1604, 1979, 72, [['Vr', 'red'], ['Vt', 'green'], ['Vn', 'blue']], 'legend', 46);
  title('Solar Wind Velocity (RTN Frame)', 900, 1961, 'chart-title');
  ylab('Vsw(km/s)', 40, 2083, 'y-axis-title');
})();
(function () {
  const ax = timeAxes('plasma-beta-chart', 2306, 0, 16, rng(0, 16, 2), v => String(v));
  polyline(ax, tsTimes(betaP.length), betaP, 'blue', 2.2, null, 'beta-p-line');
  ax.finish();
  tsLegend(1618, 2313, 60, [['\u03B2p', 'blue']], 'legend', 38);
  title('Plasma Beta', 900, 2295, 'chart-title');
  ylab('\u03B2p and \u03B2', 58, 2417, 'y-axis-title');
})();
(function () {
  const ax = timeAxes('proton-density-chart', 2639, 0.14, 0.22, rng(0.14, 0.22, 0.01), v => v.toFixed(2));
  polyline(ax, tsTimes(np.length), np, 'blue', 2.2, null, 'np-line');
  ax.finish();
  title('Proton Number Density', 900, 2629, 'chart-title');
  ylab('Np(#/cc)', 40, 2750, 'y-axis-title');
})();
(function () {
  const ax = timeAxes('proton-temperature-chart', 2972, 0.045, 0.085, rng(0.045, 0.085, 0.005), v => v.toFixed(3));
  polyline(ax, tsTimes(tp.length), tp, 'blue', 2.2, null, 'tp-line');
  ax.finish();
  tsLegend(124, 2980, 71, [['Tp', 'blue']], 'legend', 44);
  const g = mk('g', {});
  
  
  const t = txt('', 900, 2962, {'text-anchor': 'middle', 'font-size': 23}, g);
  const a = mk('tspan', {}, t); a.textContent = 'Proton Temperature and ';
  const b = mk('tspan', {'font-style': 'italic', 'font-family': '"DejaVu Serif", serif'}, t); b.textContent = 'T';
  const b2 = mk('tspan', {'font-size': 13, dy: 5, 'font-style': 'italic', 'font-family': '"DejaVu Serif", serif'}, t); b2.textContent = 'e';
  const c = mk('tspan', {dy: -5, 'font-style': 'italic', 'font-family': '"DejaVu Serif", serif'}, t); c.textContent = '/T';
  const d = mk('tspan', {'font-size': 13, dy: 5, 'font-style': 'italic', 'font-family': '"DejaVu Serif", serif'}, t); d.textContent = 'p';
  ylab('Tp(10\u2076K)', 28, 3083, 'y-axis-title');
})();
</script>
</body></html>
